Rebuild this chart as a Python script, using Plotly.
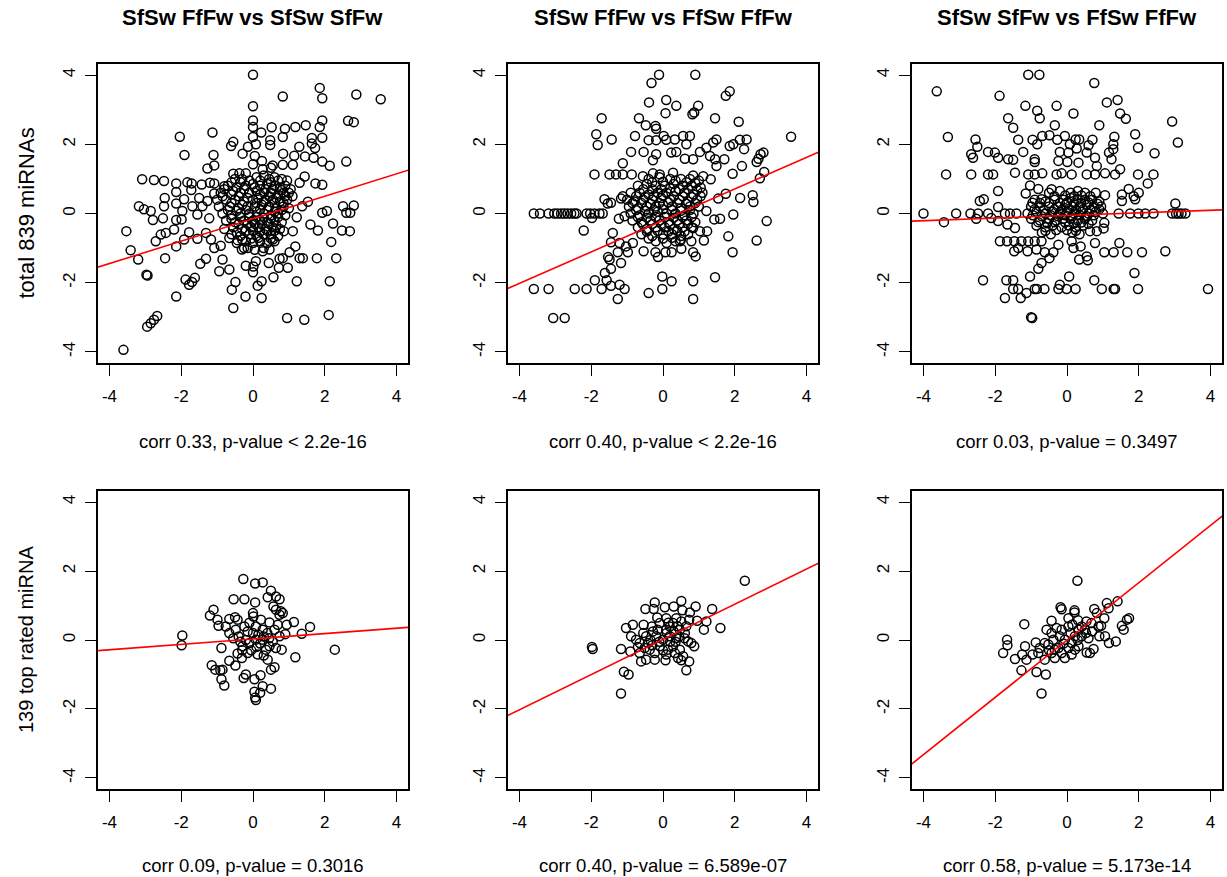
import plotly.graph_objects as go

# ---------------- data ----------------
titles = ["SfSw FfFw vs SfSw SfFw", "SfSw FfFw vs FfSw FfFw", "SfSw SfFw vs FfSw FfFw"]
row_labels = ["total 839 miRNAs", "139 top rated miRNA"]
stats = [
    "corr 0.33, p-value &lt; 2.2e-16", "corr 0.40, p-value &lt; 2.2e-16", "corr 0.03, p-value = 0.3497",
    "corr 0.09, p-value = 0.3016", "corr 0.40, p-value = 6.589e-07", "corr 0.58, p-value = 5.173e-14",
]
fit_intercept = [-0.15, -0.20, -0.057, 0.03, 0.02, 0.0]
fit_slope = [0.324, 0.455, 0.0376, 0.078, 0.51, 0.831]
tick_values = [-4, -2, 0, 2, 4]

p1 = [
    (0, 4.01), (1.86, 3.63), (1.93, 3.33), (0.83, 3.38), (2.88, 3.44), (3.56, 3.30), (0, 3.10), (0, 2.69),
    (0, 2.5), (0.52, 2.49), (0.89, 2.45), (1.18, 2.5), (1.47, 2.55), (1.93, 2.69), (1.86, 2.5), (2.65, 2.68),
    (2.81, 2.64), (0.23, 2.34), (-1.13, 2.34), (-2.04, 2.22), (0, 2.21), (0.83, 2.21), (0.48, 2.12), (0.48, 1.98),
    (1.64, 2.18), (1.93, 2.19), (-0.55, 2.07), (-0.61, 1.95), (0.08, 2.0), (-0.14, 1.93), (1.29, 1.93), (1.64, 2.02),
    (1.73, 1.89), (-1.91, 1.69), (-1.10, 1.69), (-0.29, 1.73), (0.05, 1.66), (0.84, 1.73), (1.15, 1.67), (1.45, 1.65),
    (1.69, 1.61), (1.93, 1.5), (2.14, 1.38), (2.60, 1.50), (-1.08, 1.39), (-1.27, 1.30), (0, 1.42), (0.25, 1.52),
    (0.55, 1.39), (0.83, 1.41), (1.11, 1.41), (1.44, 1.07), (1.30, 0.89), (1.74, 0.87), (1.93, 0.83), (-3.09, 0.99),
    (-2.76, 0.97), (-2.48, 0.94), (-2.14, 0.87), (-2.14, 0.62), (-1.83, 0.9), (-1.71, 0.87), (-1.72, 0.68), (-1.43, 0.84),
    (-1.2, 0.89), (-1.08, 0.87), (-0.80, 0.79), (-0.55, 1.15), (-0.38, 1.16), (-0.20, 1.16), (0.27, 1.28), (0.5, 1.32),
    (-2.46, 0.45), (-2.48, 0.21), (-2.14, 0.29), (-1.92, 0.41), (-1.69, 0.21), (-1.5, 0.45), (-1.27, 0.36), (-1.08, 0.58),
    (-3.18, 0.21), (-3.04, 0.12), (-2.85, 0.07), (-2.79, -0.19), (-2.51, -0.14), (-2.14, -0.19), (-1.97, 0.07), (-1.99, -0.17),
    (-1.55, -0.03), (-1.41, 0.21), (-1.22, -0.14), (-3.53, -0.51), (-3.41, -1.06), (-3.2, -1.33), (-2.97, -1.77), (-2.94, -1.79),
    (-2.45, -1.29), (-2.71, -0.80), (-2.57, -0.61), (-2.43, -0.56), (-2.2, -0.46), (-2.14, -0.95), (-1.92, -0.75), (-1.78, -0.54),
    (-1.55, -0.73), (-1.31, -0.56), (-1.17, -0.75), (-1.08, -1.0), (-0.90, -0.93), (-0.85, -1.33), (-1.31, -1.31), (-1.47, -1.45),
    (-0.94, -1.67), (-0.66, -1.62), (-2.14, -2.4), (-1.88, -1.91), (-1.78, -2.06), (-1.62, -1.86), (-1.70, -1.98), (-2.95, -3.27),
    (-2.85, -3.17), (-2.76, -3.07), (-2.67, -2.96), (-3.61, -3.94), (-0.59, -2.2), (-0.49, -1.98), (-0.55, -2.73), (-0.21, -2.40),
    (0.24, -2.44), (0.13, -2.09), (0.24, -1.96), (0, -1.70), (0.01, -1.53), (0.08, -1.38), (-0.2, -1.51), (0.44, -1.43),
    (0.57, -1.84), (0.72, -1.57), (0.97, -1.57), (0.74, -1.31), (0.83, -1.29), (1.02, -1.12), (1.18, -0.95), (1.22, -1.96),
    (1.30, -1.29), (1.39, -1.29), (1.78, -1.29), (2.32, -1.29), (2.18, -0.82), (2.14, -1.96), (0.95, -3.02), (1.43, -3.07),
    (2.11, -2.93), (1.81, -0.49), (1.6, -0.32), (2.23, -0.29), (2.48, -0.49), (2.70, -0.51), (1.93, 0.02), (2.06, 0.07),
    (2.51, 0.21), (2.60, 0.02), (2.71, 0.02), (2.81, 0.23), (1.53, 0.34), (1.37, 0.21), (1.22, -0.11), (1.11, -0.51),
    (0.86, -0.51), (0.55, -0.75), (0.46, -1.04), (0.27, -1.09), (-0.31, -1.04), (-0.15, -1.0), (-0.43, -0.77), (-0.66, -0.71),
    (-0.5, 1.0), (-0.3, 1.0), (0.1, 1.05), (0.3, 1.1), (0.45, 1.0), (0.6, 1.05), (0.8, 1.0), (0.95, 0.95),
    (-0.7, 0.8), (-0.45, 0.75), (-0.2, 0.8), (0.0, 0.85), (0.2, 0.8), (0.4, 0.85), (0.6, 0.8), (0.75, 0.75), (0.9, 0.8), (1.05, 0.7),
    (-0.9, 0.6), (-0.6, 0.55), (-0.35, 0.6), (-0.1, 0.6), (0.1, 0.65), (0.3, 0.6), (0.5, 0.6), (0.7, 0.55), (0.85, 0.6), (1.1, 0.5),
    (-1.0, 0.4), (-0.75, 0.4), (-0.5, 0.4), (-0.25, 0.35), (0.0, 0.4), (0.15, 0.45), (0.35, 0.4), (0.55, 0.4), (0.75, 0.35), (0.95, 0.4),
    (-0.95, 0.2), (-0.65, 0.2), (-0.4, 0.15), (-0.15, 0.2), (0.05, 0.2), (0.25, 0.25), (0.45, 0.2), (0.65, 0.15), (0.85, 0.2), (1.0, 0.15),
    (-0.85, 0.0), (-0.6, -0.05), (-0.35, 0.0), (-0.1, 0.0), (0.1, 0.05), (0.3, 0.0), (0.5, -0.05), (0.7, 0.0), (0.9, -0.05),
    (-0.75, -0.2), (-0.5, -0.25), (-0.25, -0.2), (0.0, -0.2), (0.2, -0.2), (0.4, -0.25), (0.6, -0.2), (0.8, -0.25),
    (-0.8, -0.45), (-0.55, -0.4), (-0.3, -0.45), (-0.05, -0.4), (0.15, -0.4), (0.35, -0.45), (0.55, -0.4), (0.75, -0.45),
    (-0.6, -0.6), (-0.35, -0.65), (-0.1, -0.6), (0.1, -0.65), (0.3, -0.6), (0.5, -0.6), (0.7, -0.65),
    (-0.45, -0.85), (-0.2, -0.8), (0.0, -0.85), (0.2, -0.8), (0.4, -0.85), (0.6, -0.8),
    (-0.25, -1.0), (0.05, -1.05), (0.3, -1.0),
    (-0.6, 0.9), (-0.35, 0.9), (-0.1, 0.95), (0.2, 0.95), (0.5, 0.9), (0.7, 0.95),
    (-0.8, 0.7), (-0.55, 0.65), (-0.25, 0.7), (0.05, 0.75), (0.35, 0.7), (0.55, 0.7), (0.8, 0.68), (1.0, 0.6),
    (-0.85, 0.5), (-0.4, 0.5), (-0.15, 0.45), (0.2, 0.55), (0.45, 0.5), (0.65, 0.45), (0.9, 0.5),
    (-0.6, 0.3), (-0.3, 0.25), (0.1, 0.3), (0.3, 0.33), (0.6, 0.3), (0.85, 0.3),
    (-0.7, 0.1), (-0.45, 0.08), (-0.2, 0.1), (0.2, 0.12), (0.4, 0.1), (0.6, 0.05), (0.8, 0.1),
    (-0.6, -0.15), (-0.35, -0.1), (-0.1, -0.1), (0.1, -0.1), (0.3, -0.12), (0.5, -0.15), (0.7, -0.1),
    (-0.4, -0.3), (-0.15, -0.3), (0.05, -0.3), (0.25, -0.32), (0.45, -0.3), (0.65, -0.35),
    (-0.45, -0.55), (-0.2, -0.5), (0.0, -0.5), (0.2, -0.52), (0.4, -0.5), (0.6, -0.5),
    (-0.3, -0.75), (-0.05, -0.72), (0.15, -0.7), (0.5, -0.72),
]

p2 = [
    (-0.11, 4.01), (0.90, 4.01), (-0.32, 3.77), (1.75, 3.40), (1.86, 3.53), (-0.39, 3.21), (0.09, 3.28), (0.37, 3.11),
    (0.98, 3.11), (0.87, 2.92), (0.82, 2.87), (0.07, 2.90), (-1.71, 2.75), (-0.67, 2.75), (-0.48, 2.55), (-0.21, 2.53),
    (-0.19, 2.45), (1.45, 2.75), (2.11, 2.65), (-1.86, 2.29), (-1.82, 1.98), (-1.43, 2.14), (-0.78, 2.24), (-0.40, 2.12),
    (-0.19, 2.12), (0.02, 2.24), (0.09, 2.13), (0.33, 2.14), (0.56, 2.24), (0.75, 2.24), (0.65, 2.0), (1.21, 1.90),
    (1.49, 2.14), (1.40, 2.05), (1.86, 1.95), (1.96, 2.0), (2.14, 2.13), (2.33, 2.14), (2.26, 1.86), (3.57, 2.22),
    (-0.89, 1.78), (-0.54, 1.78), (-1.12, 1.45), (-0.19, 1.71), (-0.28, 1.54), (0.23, 1.76), (0.37, 1.78), (0.61, 1.58),
    (0.84, 1.57), (1.03, 1.78), (1.31, 1.66), (1.45, 1.57), (1.49, 1.37), (1.71, 1.57), (2.20, 1.37), (2.61, 1.49),
    (2.66, 1.58), (2.72, 1.71), (2.80, 1.76), (2.82, 1.2), (2.70, 1.02), (1.94, 1.15), (-1.91, 1.13), (-1.49, 1.13),
    (-1.31, 1.13), (-1.12, 1.13), (-0.87, 1.13), (-0.56, 1.08), (-0.28, 1.16), (-0.09, 1.13), (0.28, 1.18), (0.84, 1.10),
    (1.12, 1.08), (1.33, 0.99), (1.75, 0.57), (1.54, 0.43), (2.15, 0.45), (2.50, 0.53), (2.52, 0.33), (1.96, -0.03),
    (2.89, -0.22), (1.59, -0.15), (1.43, -0.17), (1.21, 0.07), (1.03, -0.51), (1.23, -0.51), (1.14, -0.78), (1.82, -0.66),
    (1.94, -1.12), (2.61, -0.78), (1.45, -1.84), (0.84, -1.96), (0.84, -2.47), (0.24, -1.96), (-0.02, -1.82), (-0.02, -2.18),
    (-0.40, -2.30), (-1.26, -2.47), (-1.07, -2.18), (-1.21, -2.06), (-1.45, -2.09), (-1.57, -1.93), (-1.71, -2.18), (-1.90, -1.93),
    (-1.62, -1.72), (-1.45, -1.60), (-1.49, -1.33), (-1.53, -1.26), (-1.17, -1.43), (-1.26, -1.12), (-2.13, -2.18), (-2.46, -2.18),
    (-3.19, -2.18), (-3.60, -2.18), (-3.06, -3.02), (-2.74, -3.02), (-2.21, -0.49), (-1.40, -0.56), (-1.45, -0.83), (-1.21, -0.85),
    (-1.03, -0.95), (-0.98, -1.12), (-0.84, -0.85), (-0.54, -1.09), (-0.21, -1.12), (-0.14, -1.26), (0.07, -1.12), (0.24, -1.12),
    (0.51, -1.02), (0.47, -0.80), (0.84, -1.12), (0.91, -1.24), (0.79, -0.80), (0.84, -0.42),
    (-3.60, 0.0), (-3.43, 0.0), (-3.19, 0.0), (-3.03, 0.0), (-2.94, 0.0), (-2.84, 0.0), (-2.75, 0.0), (-2.66, 0.0),
    (-2.56, 0.0), (-2.47, 0.0), (-2.41, 0.0), (-2.13, 0.0), (-2.03, 0.0), (-1.91, 0.0), (-1.77, 0.0), (-1.68, 0.0),
    (-1.98, -0.13), (-1.63, 0.41), (-1.54, 0.29), (-1.45, 0.31), (-1.17, 0.43), (-1.23, -0.15), (-1.07, -0.08), (-1.12, 0.5),
    (-0.4, 1.0), (-0.1, 1.05), (0.2, 1.0), (0.5, 1.0), (0.75, 1.0), (1.0, 0.95),
    (-0.7, 0.8), (-0.45, 0.85), (-0.2, 0.8), (0.05, 0.8), (0.3, 0.85), (0.55, 0.8), (0.8, 0.8), (1.05, 0.75),
    (-0.9, 0.6), (-0.65, 0.6), (-0.4, 0.55), (-0.15, 0.6), (0.1, 0.6), (0.35, 0.65), (0.6, 0.6), (0.85, 0.55), (1.1, 0.6),
    (-1.0, 0.4), (-0.8, 0.35), (-0.55, 0.4), (-0.3, 0.4), (-0.05, 0.45), (0.2, 0.4), (0.45, 0.4), (0.7, 0.35), (0.95, 0.4),
    (-0.95, 0.2), (-0.7, 0.15), (-0.45, 0.2), (-0.2, 0.2), (0.0, 0.25), (0.25, 0.2), (0.5, 0.15), (0.75, 0.2), (1.0, 0.2),
    (-0.9, 0.0), (-0.65, -0.05), (-0.4, 0.0), (-0.15, 0.05), (0.1, 0.0), (0.35, 0.0), (0.6, -0.05), (0.85, 0.0),
    (-0.85, -0.2), (-0.6, -0.25), (-0.35, -0.2), (-0.1, -0.2), (0.15, -0.25), (0.4, -0.2), (0.65, -0.2), (0.9, -0.25),
    (-0.7, -0.4), (-0.45, -0.45), (-0.2, -0.4), (0.05, -0.4), (0.3, -0.45), (0.55, -0.4), (0.8, -0.4),
    (-0.6, -0.6), (-0.3, -0.65), (0.0, -0.6), (0.25, -0.6), (0.5, -0.65), (0.7, -0.6),
    (-0.2, -0.8), (0.1, -0.85), (0.35, -0.8),
    (-0.3, 0.9), (0.0, 0.92), (0.35, 0.95), (0.65, 0.9), (0.9, 0.88),
    (-0.55, 0.7), (-0.3, 0.7), (-0.05, 0.7), (0.2, 0.72), (0.45, 0.7), (0.7, 0.7), (0.95, 0.68),
    (-0.75, 0.5), (-0.5, 0.48), (-0.25, 0.5), (0.0, 0.52), (0.3, 0.5), (0.55, 0.5), (0.8, 0.48), (1.05, 0.5),
    (-0.85, 0.3), (-0.6, 0.3), (-0.35, 0.28), (-0.1, 0.3), (0.15, 0.32), (0.4, 0.3), (0.65, 0.28), (0.9, 0.3),
    (-0.75, 0.1), (-0.5, 0.08), (-0.25, 0.1), (0.0, 0.12), (0.25, 0.1), (0.5, 0.08), (0.75, 0.1),
    (-0.7, -0.1), (-0.45, -0.12), (-0.2, -0.1), (0.05, -0.1), (0.3, -0.12), (0.55, -0.1), (0.8, -0.1),
    (-0.55, -0.32), (-0.3, -0.3), (-0.05, -0.3), (0.2, -0.32), (0.45, -0.3), (0.7, -0.3),
    (-0.45, -0.52), (-0.15, -0.5), (0.15, -0.52), (0.4, -0.5), (0.6, -0.52),
    (-0.4, -0.72), (0.0, -0.72), (0.25, -0.7), (0.5, -0.75),
]

p3 = [
    (-1.08, 4.01), (-0.77, 4.01), (0.76, 3.77), (-3.63, 3.53), (-1.88, 3.40), (-1.16, 3.11), (-0.83, 2.97), (-0.76, 2.75),
    (-0.29, 3.11), (0.18, 2.89), (1.11, 3.21), (1.41, 3.28), (1.48, 2.89), (1.64, 2.74), (-1.64, 2.75), (-1.50, 2.48),
    (-0.34, 2.55), (0.90, 2.55), (2.93, 2.66), (3.09, 2.05), (-3.32, 2.21), (-2.55, 2.14), (-2.50, 1.93), (-2.67, 1.71),
    (-2.62, 1.61), (-2.20, 1.78), (-2.01, 1.76), (-1.92, 1.61), (-1.64, 1.57), (-1.50, 1.55), (-1.36, 2.13), (-1.22, 1.78),
    (-0.96, 2.13), (-0.83, 2.0), (-0.69, 2.24), (-0.49, 2.26), (-0.27, 2.13), (-0.06, 2.24), (0.08, 2.0), (0.24, 2.14),
    (0.34, 2.14), (0.71, 2.13), (0.60, 1.97), (0.27, 1.88), (1.32, 2.22), (1.29, 2.0), (1.29, 1.86), (1.90, 2.29),
    (1.98, 1.90), (2.44, 1.74), (1.17, 1.76), (1.24, 1.57), (-0.90, 1.57), (-0.90, 1.49), (-0.20, 1.78), (0.04, 1.76),
    (0.55, 1.76), (-0.24, 1.52), (0.01, 1.49), (0.32, 1.47), (0.78, 1.61), (0.83, 1.37),
    (-3.37, 1.13), (-2.67, 1.13), (-2.20, 1.13), (-2.06, 1.13), (-1.45, 1.18), (-1.08, 1.13), (-0.90, 1.13), (-0.69, 1.16),
    (-0.29, 1.13), (-0.15, 1.16), (0.13, 1.13), (0.55, 1.13), (0.78, 1.13), (1.06, 1.16), (1.34, 1.13), (1.48, 1.28),
    (1.98, 1.13), (2.41, 1.13), (2.25, 0.87), (-1.92, 0.65), (-2.43, 0.36), (-2.32, 0.41), (-1.92, 0.19), (-1.15, 0.58),
    (-1.03, 0.81), (-0.96, 0.31), (-0.80, 0.71), (-0.71, 0.41), (-0.43, 0.70), (1.06, 0.53), (1.53, 0.55), (1.53, 0.36),
    (1.72, 0.71), (1.86, 0.50), (2.00, 0.60), (1.90, 0.41), (3.02, 0.29),
    (-4.0, 0.0), (-3.09, 0.0), (-2.69, 0.0), (-2.48, 0.0), (-2.20, 0.0), (-1.73, 0.0), (-1.59, 0.0), (-1.41, 0.0),
    (1.44, 0.0), (1.76, 0.0), (1.99, 0.0), (2.18, 0.0), (2.41, 0.0), (2.93, 0.0), (3.04, 0.0), (3.11, 0.0), (3.19, 0.0), (3.30, 0.0),
    (-3.43, -0.25), (-2.53, -0.15), (-2.11, -0.13), (-1.92, -0.22), (-1.66, -0.32), (-1.45, -0.42),
    (-1.87, -0.80), (-1.67, -0.80), (-1.47, -0.80), (-1.27, -0.80), (-1.08, -0.80), (-0.90, -0.80), (-0.71, -0.80),
    (-1.47, -1.09), (-1.36, -1.0), (-1.10, -1.09), (-0.85, -1.04), (-0.62, -1.12), (-0.49, -1.29), (-0.38, -1.12), (-0.24, -0.90),
    (-0.71, -1.43), (-0.80, -1.60), (-1.03, -1.82), (-2.34, -1.93), (-1.69, -1.93), (-1.50, -1.93), (-1.50, -2.18), (-1.36, -2.18),
    (-1.73, -2.44), (-1.29, -2.44), (-1.13, -2.30), (-0.90, -2.18), (-0.84, -2.18), (-0.63, -2.18), (-0.97, -3.02), (-1.0, -3.0),
    (-0.24, -2.18), (-0.20, -2.06), (-0.01, -2.18), (0.24, -2.18), (0.06, -1.82), (0.76, -1.93), (0.97, -2.18), (1.30, -2.18),
    (1.34, -2.18), (1.98, -2.18), (1.88, -1.72), (3.93, -2.18), (0.13, -0.80), (0.18, -1.0), (0.38, -0.95), (0.34, -1.33),
    (0.55, -1.24), (0.58, -1.35), (0.78, -0.85), (1.04, -1.12), (1.30, -1.12), (1.46, -0.85), (1.68, -1.12), (2.09, -1.12),
    (2.74, -1.09), (0.83, -0.51), (1.02, -0.43), (1.04, -0.27), (0.64, -0.51),
    (-0.5, 0.6), (-0.2, 0.65), (0.1, 0.6), (0.3, 0.65), (0.5, 0.6), (0.8, 0.6),
    (-0.9, 0.4), (-0.6, 0.35), (-0.35, 0.4), (-0.1, 0.4), (0.1, 0.45), (0.3, 0.4), (0.5, 0.4), (0.7, 0.4), (0.9, 0.35),
    (-1.0, 0.2), (-0.75, 0.2), (-0.5, 0.2), (-0.25, 0.2), (-0.05, 0.25), (0.15, 0.2), (0.35, 0.2), (0.55, 0.25), (0.75, 0.2), (0.95, 0.2),
    (-1.1, 0.0), (-0.85, 0.05), (-0.6, 0.0), (-0.4, 0.05), (-0.2, 0.0), (0.0, 0.05), (0.2, 0.0), (0.4, 0.05), (0.6, 0.0), (0.8, 0.05), (1.0, 0.0),
    (-1.0, -0.15), (-0.75, -0.2), (-0.5, -0.15), (-0.3, -0.2), (-0.1, -0.15), (0.1, -0.15), (0.3, -0.2), (0.5, -0.15), (0.7, -0.2),
    (-0.85, -0.35), (-0.6, -0.4), (-0.4, -0.35), (-0.15, -0.4), (0.05, -0.35), (0.25, -0.4), (0.45, -0.35),
    (-0.7, -0.55), (-0.45, -0.6), (0.15, -0.55), (0.35, -0.6),
    (-0.35, 0.5), (-0.05, 0.52), (0.2, 0.5), (0.4, 0.52), (0.65, 0.5),
    (-0.75, 0.3), (-0.5, 0.3), (-0.2, 0.3), (0.0, 0.32), (0.2, 0.3), (0.4, 0.3), (0.6, 0.32), (0.85, 0.28),
    (-0.9, 0.12), (-0.65, 0.1), (-0.35, 0.12), (-0.15, 0.1), (0.05, 0.14), (0.25, 0.1), (0.45, 0.12), (0.65, 0.1), (0.9, 0.12),
    (-0.95, -0.05), (-0.7, -0.08), (-0.45, -0.05), (-0.25, -0.08), (-0.05, -0.05), (0.15, -0.07), (0.35, -0.05), (0.55, -0.08), (0.75, -0.05),
    (-0.8, -0.25), (-0.55, -0.28), (-0.35, -0.25), (-0.05, -0.26), (0.2, -0.28), (0.4, -0.26), (0.6, -0.3),
    (-0.6, -0.5), (-0.3, -0.48), (0.0, -0.48), (0.25, -0.5),
]

p4 = [
    (-0.27, 1.77), (0.06, 1.64), (0.27, 1.67), (0.50, 1.43), (-0.54, 1.18), (-0.24, 1.18), (0.06, 1.09), (0.41, 1.24),
    (0.64, 1.26), (0.74, 1.18), (0.57, 0.97), (0.64, 0.88), (0.78, 0.83), (0.74, 0.73), (0.83, 0.78), (-1.10, 0.88),
    (-1.20, 0.71), (-0.99, 0.59), (-0.96, 0.41), (-0.66, 0.61), (-0.50, 0.66), (-0.43, 0.59), (0, 0.78), (0.01, 0.68),
    (0.22, 0.59), (0.46, 0.51), (0.69, 0.44), (0.94, 0.44), (1.14, 0.52), (1.59, 0.38), (1.36, 0.18), (0.90, 0.17),
    (0.74, 0.11), (-0.76, 0.39), (-0.66, 0.20), (-0.48, 0.30), (-0.24, 0.39), (0.08, 0.39), (0.27, 0.30), (-1.97, 0.13),
    (-1.99, -0.15), (-0.88, -0.23), (2.28, -0.28), (1.18, -0.50), (0.80, -0.28), (0.64, -0.23), (0.46, -0.18), (0.13, -0.42),
    (-0.15, -0.38), (-0.43, -0.39), (-0.31, -0.52), (-0.49, -0.74), (-0.66, -0.60), (-1.15, -0.73), (-1.05, -0.86), (-0.91, -0.88),
    (-0.85, -0.86), (-0.88, -1.14), (-0.80, -1.32), (-0.26, -1.10), (-0.20, -1.0), (0.04, -1.14), (0.21, -1.02), (0.41, -0.57),
    (0.50, -0.86), (0.60, -0.79), (0.27, -1.34), (0.50, -1.41), (0.04, -1.5), (0.20, -1.53), (0.06, -1.67), (0.08, -1.74),
    (-0.29, -0.18), (-0.10, -0.09), (0.08, 0.01), (0.27, 0.01), (0.36, -0.28), (0.55, -0.04),
    (-0.4, 0.1), (-0.2, 0.0), (0.0, 0.2), (0.1, -0.2), (0.3, 0.1), (-0.1, 0.5), (0.2, -0.1), (0.4, 0.2), (-0.3, -0.3),
    (-0.35, -0.05), (-0.15, 0.25), (0.15, 0.15), (0.45, 0.05), (0.6, 0.3), (-0.55, 0.05), (0.3, -0.45), (-0.05, -0.3),
]

p5 = [
    (2.28, 1.72), (-0.23, 1.09), (0.51, 1.13), (-0.49, 0.90), (-0.26, 0.90), (0.05, 0.95), (0.30, 0.97), (0.54, 0.86),
    (0.75, 0.80), (0.91, 0.97), (1.37, 0.90), (-0.16, 0.65), (0.09, 0.63), (0.37, 0.63), (0.73, 0.59), (0.95, 0.56),
    (1.21, 0.54), (1.60, 0.35), (1.14, 0.30), (-1.03, 0.35), (-0.84, 0.44), (-0.54, 0.44), (-0.31, 0.39), (-0.89, 0.11),
    (-0.75, 0.01), (-0.47, 0.11), (-0.19, 0.11), (0.19, 0.39), (0.47, 0.30), (0.79, -0.09), (0.87, -0.18), (0.70, -0.04),
    (-1.98, -0.20), (-1.96, -0.26), (-1.17, -0.26), (-0.91, -0.33), (-0.65, -0.38), (-0.61, -0.62), (-0.47, -0.57), (-0.23, -0.57),
    (0.07, -0.59), (0.09, -0.42), (0.42, -0.52), (0.51, -0.59), (0.73, -0.62), (0.65, -0.88), (-1.09, -0.92), (-0.96, -1.0),
    (-1.17, -1.55), (-0.37, -0.28), (-0.09, -0.18), (0.28, -0.18), (0.47, -0.28), (-0.42, -0.09), (0, 0.01), (0.19, 0.11),
    (0.37, 0.06), (0.61, 0.20), (0.09, 0.30), (0.28, 0.49), (0.51, 0.54), (-0.09, 0.49), (-0.28, 0.25), (-0.65, -0.09),
    (-0.51, -0.23), (-0.23, -0.38), (0.14, -0.28), (0.33, -0.38), (0.56, -0.47),
    (-0.7, -0.2), (-0.35, 0.0), (-0.1, -0.05), (0.1, 0.2), (0.3, 0.25), (0.45, 0.1), (-0.15, 0.3), (0.2, -0.05),
    (0.6, 0.05), (0.65, 0.4), (-0.3, -0.15), (0.0, -0.3), (0.35, -0.05), (-0.55, 0.2), (0.15, 0.5), (0.4, 0.4),
]

p6 = [
    (0.29, 1.72), (1.11, 1.07), (1.41, 1.12), (1.16, 0.92), (0.76, 0.90), (0.83, 0.78), (-0.18, 0.95), (-0.15, 0.89),
    (0.21, 0.86), (0.21, 0.80), (-0.43, 0.56), (0.04, 0.63), (0.31, 0.57), (0.54, 0.54), (0.68, 0.49), (0.88, 0.39),
    (1.04, 0.63), (0.95, 0.41), (1.53, 0.41), (1.58, 0.30), (1.67, 0.59), (1.73, 0.63), (0.90, 0.11), (1.06, 0.11),
    (1.17, -0.09), (1.36, -0.04), (-1.19, 0.46), (-0.57, 0.30), (-0.29, 0.35), (0.04, 0.39), (0.32, 0.30), (0.53, 0.20),
    (-1.67, 0.01), (-1.66, -0.15), (-1.78, -0.38), (-1.45, -0.55), (-1.17, -0.18), (-1.25, -0.42), (-1.13, -0.57), (-1.27, -0.88),
    (-0.96, -0.42), (-0.87, -0.07), (-0.85, -0.93), (-0.59, -1.0), (-0.71, -1.55), (-0.62, -0.57), (-0.43, -0.38), (-0.76, -0.23),
    (-0.52, -0.13), (-0.34, -0.52), (-0.06, -0.52), (0.13, -0.42), (0.55, -0.36), (0.64, -0.38), (0.74, -0.26), (-0.20, 0.11),
    (-0.06, 0.01), (0.13, -0.09), (0.32, -0.18), (0.22, 0.11), (0.41, 0.11), (-0.38, 0.01), (-0.62, -0.09), (-0.24, -0.23),
    (0.04, -0.23), (-0.15, 0.30), (0.41, 0.39), (-0.43, 0.20), (-0.80, -0.38), (-0.34, -0.28), (-0.15, -0.38), (0.22, -0.28),
    (0.1, 0.2), (0.3, 0.0), (0.5, 0.3), (-0.1, -0.1), (0.6, 0.05), (0.15, 0.45), (-0.5, -0.3), (0.7, 0.25),
]

panels = [p1, p2, p3, p4, p5, p6]

# ---------------- layout geometry ----------------
W, H = 1227, 877
col_dom = [(98 / W, 408 / W), (508 / W, 818 / W), (912 / W, 1222 / W)]
row_dom = [(1 - 363 / H, 1 - 64 / H), (1 - 789 / H, 1 - 491 / H)]
FONT = "Liberation Sans, Arial, Helvetica, sans-serif"
RANGE = [-4.32, 4.32]

fig = go.Figure()
layout = dict(
    width=W, height=H, margin=dict(l=0, r=0, t=0, b=0),
    paper_bgcolor="white", plot_bgcolor="white", showlegend=False,
    font=dict(family=FONT, color="black"),
)

axis_common = dict(
    range=RANGE, tickvals=tick_values, ticktext=[str(v) for v in tick_values],
    ticks="outside", ticklen=11, tickwidth=1.3, tickcolor="black",
    showline=True, linecolor="black", linewidth=1.5, mirror=True,
    showgrid=False, zeroline=False, fixedrange=True,
    tickfont=dict(family=FONT, size=17, color="black"),
)

annotations = []
for i, pts in enumerate(panels):
    r, c = divmod(i, 3)
    n = i + 1
    xa = "x" if n == 1 else f"x{n}"
    ya = "y" if n == 1 else f"y{n}"
    layout["xaxis" if n == 1 else f"xaxis{n}"] = dict(axis_common, domain=col_dom[c], anchor=ya, ticklabelstandoff=6)
    layout["yaxis" if n == 1 else f"yaxis{n}"] = dict(axis_common, domain=row_dom[r], anchor=xa, tickangle=-90, ticklabelstandoff=3)

    xs = [p[0] for p in pts]
    ys = [p[1] for p in pts]
    fig.add_trace(go.Scatter(
        x=xs, y=ys, xaxis=xa, yaxis=ya, mode="markers",
        marker=dict(symbol="circle-open", size=9, color="black", line=dict(width=1.5, color="black")),
        hoverinfo="skip",
    ))
    lx = [-4.6, 4.6]
    ly = [fit_intercept[i] + fit_slope[i] * v for v in lx]
    fig.add_trace(go.Scatter(
        x=lx, y=ly, xaxis=xa, yaxis=ya, mode="lines",
        line=dict(color="#ff0000", width=1.6), hoverinfo="skip",
    ))

    xc = (col_dom[c][0] + col_dom[c][1]) / 2
    stat_y = 1 - (442 if r == 0 else 865) / H
    annotations.append(dict(
        x=xc, y=stat_y, xref="paper", yref="paper", text=stats[i], showarrow=False,
        xanchor="center", yanchor="middle", font=dict(family=FONT, size=18.5, color="black"),
    ))

for c in range(3):
    xc = (col_dom[c][0] + col_dom[c][1]) / 2
    annotations.append(dict(
        x=xc, y=1 - 18 / H, xref="paper", yref="paper", text=f"<b>{titles[c]}</b>", showarrow=False,
        xanchor="center", yanchor="middle", font=dict(family=FONT, size=22, color="black"),
    ))

label_sizes = [22, 20]
for r in range(2):
    yc = (row_dom[r][0] + row_dom[r][1]) / 2
    annotations.append(dict(
        x=26 / W, y=yc, xref="paper", yref="paper", text=row_labels[r], showarrow=False,
        textangle=-90, xanchor="center", yanchor="middle", font=dict(family=FONT, size=label_sizes[r], color="black"),
    ))

layout["annotations"] = annotations
fig.update_layout(**layout)
fig.write_html(
    "out.html",
    config={"displayModeBar": False, "staticPlot": False},
    post_script="document.body.style.margin='0px';document.body.style.padding='0px';",
)
